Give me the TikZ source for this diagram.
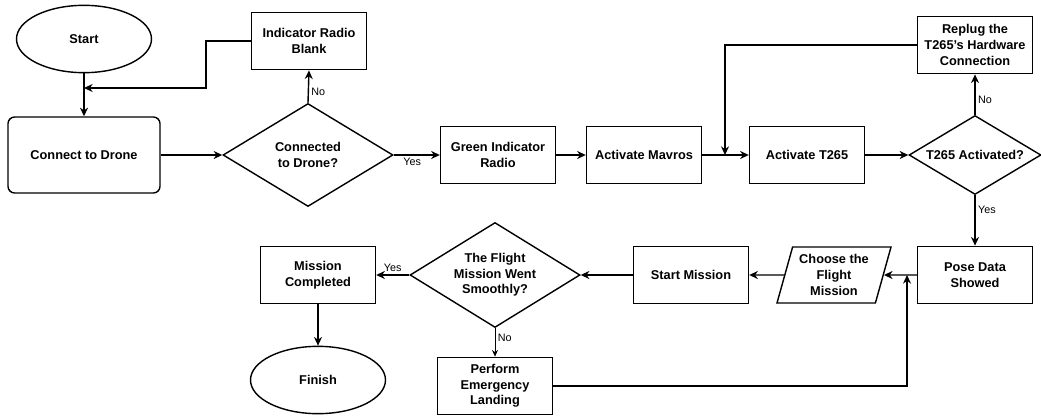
\documentclass[tikz,border=0pt]{standalone}
\usepackage{fontspec}
\setmainfont{Liberation Sans}
\usetikzlibrary{positioning}
\usetikzlibrary{shapes.geometric}
\usetikzlibrary{arrows.meta}

\tikzset{
  boxnode/.style={draw, line width=1.2pt, minimum width=3.45cm, minimum height=1.72cm,
    align=center, inner sep=1pt, font=\bfseries\fontsize{10.9}{13.3}\selectfont},
  roundnode/.style={boxnode, rounded corners=0.2cm, minimum width=4.56cm, minimum height=2.28cm},
  termnode/.style={boxnode, ellipse, minimum width=4.05cm, minimum height=2.02cm},
  decision/.style={boxnode, diamond, aspect=1.65, inner sep=0pt},
  datanode/.style={boxnode, trapezium, trapezium left angle=70, trapezium right angle=110,
    trapezium stretches body, minimum width=3.42cm, minimum height=1.68cm},
  arr/.style={line width=1.2pt, -{Stealth[length=0.26cm, width=0.24cm]}},
  thinarr/.style={line width=0.7pt, -{Stealth[length=0.2cm, width=0.18cm]}},
  lbl/.style={font=\fontsize{9.2}{11}\selectfont, inner sep=2pt}
}

\begin{document}
\begin{tikzpicture}[x=0.03cm, y=-0.03cm]

\useasboundingbox (0,0) rectangle (1041,419);

%top row%
\node[termnode] (start) at (84,39) {Start};
\node[roundnode] (connect) at (84,155) {Connect to Drone};
\node[boxnode] (blank) at (309,41) {Indicator Radio\\Blank};
\node[decision, minimum width=5.1cm, minimum height=3.09cm] (q1) at (308,155) {Connected\\to Drone?};
\node[boxnode] (green) at (498,155) {Green Indicator\\Radio};
\node[boxnode] (mavros) at (644,155) {Activate Mavros};
\node[boxnode] (t265) at (807,155) {Activate T265};
\node[decision, minimum width=3.96cm, minimum height=2.37cm] (q2) at (975,155) {T265 Activated?};
\node[boxnode] (replug) at (975,45) {Replug the\\T265's Hardware\\Connection};

%bottom row%
\node[boxnode] (pose) at (975,275) {Pose Data\\Showed};
\node[datanode] (choose) at (834,275) {Choose the\\Flight\\Mission};
\node[boxnode] (startm) at (691,275) {Start Mission};
\node[decision, minimum width=5.1cm, minimum height=3.15cm] (q3) at (495,275) {The Flight\\Mission Went\\Smoothly?};
\node[boxnode] (landing) at (495,386) {Perform\\Emergency\\Landing};
\node[boxnode] (done) at (318,275) {Mission\\Completed};
\node[termnode] (finish) at (318,380) {Finish};

%join points%
\coordinate (bend1) at (206,88);
\coordinate (join1) at (84,88);
\coordinate (join2) at (725,155);
\coordinate (join3) at (907,275);

%straight arrows%
\draw[arr] (start) -- (connect);
\foreach \a/\b in {connect/q1, green/mavros, mavros/t265, t265/q2, pose/choose, choose/startm, startm/q3, done/finish}
  \draw[arr] (\a) -- (\b);

%decisions%
\draw[arr] (q1.north) -- node[lbl, right, pos=0.35] {No} (blank.south);
\draw[arr] (q1.east) -- node[lbl, below, pos=0.4] {Yes} (green.west);
\draw[arr] (q2.north) -- node[lbl, right, pos=0.38] {No} (replug.south);
\draw[arr] (q2.south) -- node[lbl, right, pos=0.29] {Yes} (pose.north);
\draw[arr] (q3.west) -- node[lbl, above, pos=0.5] {Yes} (done.east);
\draw[thinarr] (q3.south) -- node[lbl, right, pos=0.35] {No} (landing.north);

%loops back%
\draw[arr] (blank.west) -| (bend1) -- (join1);
\draw[arr] (replug.west) -| (join2);
\draw[arr] (landing.east) -| (join3);

\end{tikzpicture}
\end{document}
